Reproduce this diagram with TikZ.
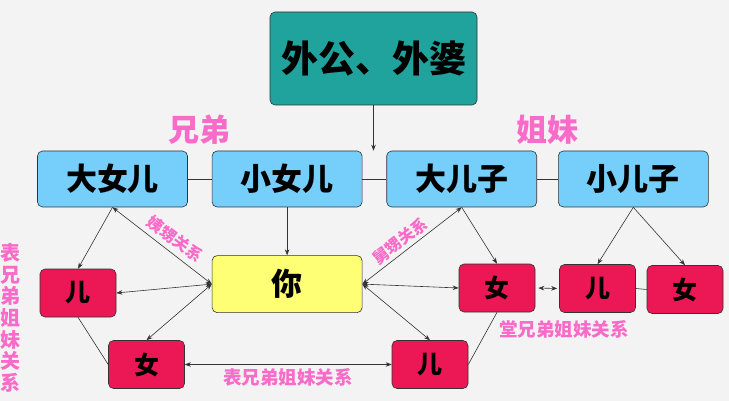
\documentclass[tikz,border=0pt]{standalone}
\usepackage{fontspec}
\usetikzlibrary{arrows.meta,positioning,calc}
\newfontfamily\cjk{Noto Sans CJK SC}
\definecolor{FamTeal}{HTML}{21A39D}
\definecolor{FamBlue}{HTML}{76CEFA}
\definecolor{FamYellow}{HTML}{FFFF75}
\definecolor{FamRed}{HTML}{EC1755}
\definecolor{FamPink}{HTML}{F96BC8}
\definecolor{FamLine}{HTML}{333333}
\definecolor{FamPaper}{HTML}{F3F3F3}

\begin{document}
\begin{tikzpicture}[x=1pt,y=-1pt,
    box/.style={rounded corners=5pt,draw=FamLine,line width=0.6pt,inner sep=0pt},
    elder/.style={box,fill=FamTeal,minimum width=207pt,minimum height=93pt,
      font=\cjk\bfseries\fontsize{37}{37}\selectfont},
    child/.style={box,fill=FamBlue,minimum width=150pt,minimum height=56pt,
      font=\cjk\bfseries\fontsize{31}{31}\selectfont},
    me/.style={box,fill=FamYellow,minimum width=150pt,minimum height=57pt,
      font=\cjk\bfseries\fontsize{31}{31}\selectfont},
    kin/.style={box,fill=FamRed,minimum width=76pt,minimum height=48pt,
      font=\cjk\bfseries\fontsize{25}{25}\selectfont},
    rel/.style={text=FamPink,inner sep=0pt,font=\cjk\bfseries\fontsize{16}{16}\selectfont},
    link/.style={FamLine,line width=0.6pt},
    arr/.style={link,-{Stealth[length=6pt,width=4.5pt]}},
    both/.style={link,{Stealth[length=6pt,width=4.5pt]}-{Stealth[length=6pt,width=4.5pt]}}]
  \useasboundingbox (0,0) rectangle (729,401);
  \fill[FamPaper] (0,0) rectangle (729,401);

  \node[elder] (gp) at (373.5,58.5) {外公、外婆};
  \node[child] (dn) at (112.5,179) {大女儿};
  \node[child,right=24pt of dn] (xn) {小女儿};
  \node[child,right=24pt of xn] (dz) {大儿子};
  \node[child,right=21pt of dz] (xz) {小儿子};
  \node[me,below=48pt of xn] (you) {你};
  \node[kin] (eL) at (78,293) {儿};
  \node[kin] (nL) at (146.5,364.5) {女};
  \node[kin] (nM) at (497,288) {女};
  \node[kin] (eB) at (430,364.5) {儿};
  \node[kin] (eR) at (597.5,288.5) {儿};
  \node[kin] (nR) at (685,289.5) {女};
  \coordinate (j) at ($(xn.north east)!0.5!(dz.north west)$);

  \node[rel,font=\cjk\bfseries\fontsize{31}{31}\selectfont] (bro) at (199,130) {兄弟};
  \node[rel,font=\cjk\bfseries\fontsize{31}{31}\selectfont] (sis) at (547,130) {姐妹};
  \node[rel,rotate=-37] (yi) at (175,239) {姨甥关系};
  \node[rel,rotate=37] (jiu) at (400,241) {舅甥关系};
  \node[rel,font=\cjk\bfseries\fontsize{18.5}{18.5}\selectfont] (biao) at (288,377) {表兄弟姐妹关系};
  \node[rel,font=\cjk\bfseries\fontsize{18.5}{18.5}\selectfont] (tang) at (564,329) {堂兄弟姐妹关系};
  \node[rel,align=center,font=\cjk\bfseries\fontsize{20}{21.7}\selectfont] (side) at (11,318)
    {表\\兄\\弟\\姐\\妹\\关\\系};

  \draw[arr] (gp.south) -- (gp.south |- j);
  \draw[link] (dn.east) -- (xn.west);
  \draw[link] (xn.east) -- (dz.west);
  \draw[link] (dz.east) -- (xz.west);
  \draw[arr] (xn.south) -- (you.north);
  \draw[arr] (dn.south) -- (eL.north);
  \draw[both] (you.west) -- (dn.south);
  \draw[both] (you.west) -- (eL.east);
  \draw[both] (you.west) -- (nL.north);
  \draw[link] (eL.south) -- (nL.west);
  \draw[both] (nL.east) -- (eB.west);
  \draw[both] (you.east) -- (dz.south);
  \draw[both] (you.east) -- (nM.west);
  \draw[both] (you.east) -- (eB.north);
  \draw[arr] (dz.south) -- (nM.north);
  \draw[link] (nM.south) -- (eB.east);
  \draw[both,shorten <=3pt,shorten >=2pt] (nM.east) -- (eR.west);
  \draw[link] (eR.east) -- (nR.west);
  \draw[arr] (xz.south) -- (eR.north);
  \draw[arr] (xz.south) -- (nR.north);
\end{tikzpicture}
\end{document}
